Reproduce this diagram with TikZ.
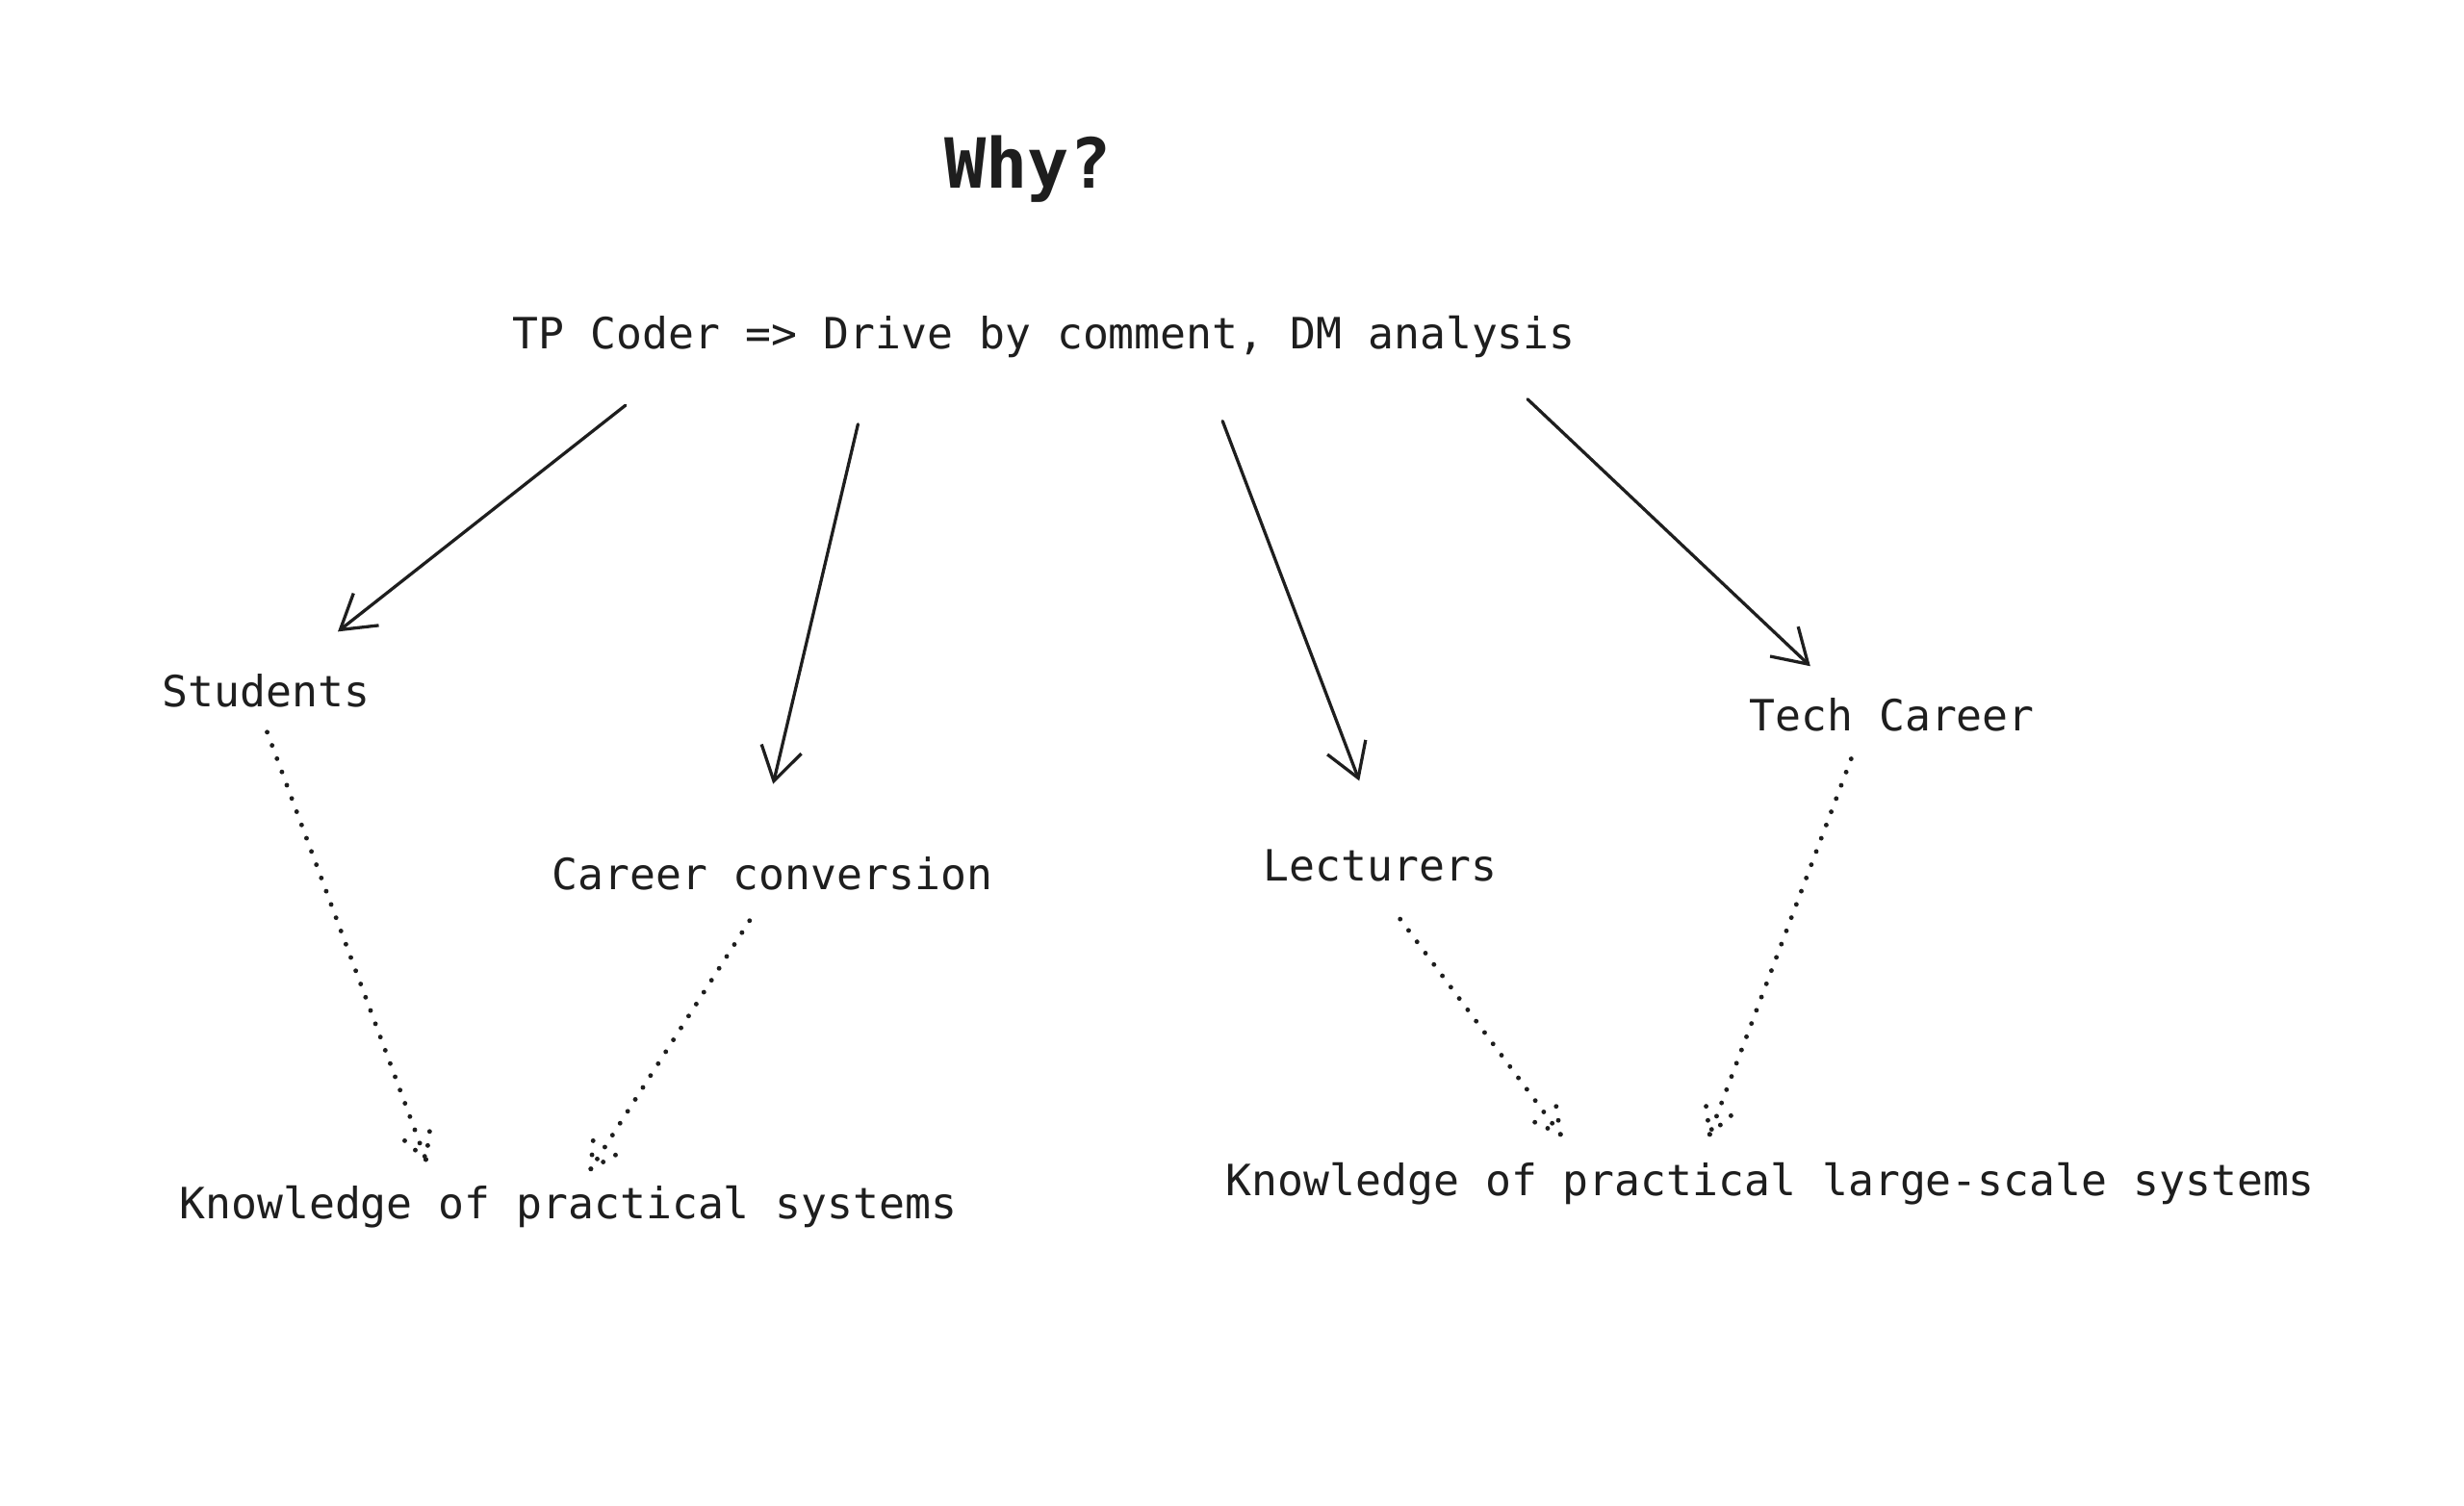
\documentclass[tikz,border=0pt]{standalone}
\usepackage{fontspec}
\setmonofont{DejaVu Sans Mono}
\usetikzlibrary{arrows.meta,calc}
\definecolor{ink}{HTML}{1E1E1E}
\begin{document}
\begin{tikzpicture}[x=1pt,y=-1pt,
  lbl/.style={font=\ttfamily\fontsize{27.4}{30}\selectfont, text=ink, inner sep=0pt, anchor=base west},
  heading/.style={font=\ttfamily\bfseries\fontsize{44}{48}\selectfont, text=ink, inner sep=0pt, anchor=base},
  solidarrow/.style={draw=ink, line width=2pt, line cap=round, line join=round, -{Straight Barb[length=21pt,width=26pt]}},
  dotline/.style={draw=ink, line width=3pt, line cap=round, dash pattern=on 0pt off 9pt}]
\useasboundingbox (0,0) rectangle (1568,958);
\fill[white] (0,0) rectangle (1568,958);

\node[heading] (why) at (654,120) {Why?};
\node[lbl] (tp) at (326,222) {TP Coder => Drive by comment, DM analysis};
\node[lbl] (students) at (103,450) {Students};
\node[lbl] (conv) at (351,566) {Career conversion};
\node[lbl] (lect) at (804,561) {Lecturers};
\node[lbl] (tech) at (1113,465) {Tech Career};
\node[lbl] (know1) at (114,776) {Knowledge of practical systems};
\node[lbl] (know2) at (780,761) {Knowledge of practical large-scale systems};

% solid arrow end points
\coordinate (a1s) at (398,258); \coordinate (a1e) at (215,402);
\coordinate (a2s) at (546,270); \coordinate (a2e) at (492,499);
\coordinate (a3s) at (778,268); \coordinate (a3e) at (865,497);
\coordinate (a4s) at (972,254); \coordinate (a4e) at (1152,424);
\draw[solidarrow] (a1s) -- (a1e);
\draw[solidarrow] (a2s) -- (a2e);
\draw[solidarrow] (a3s) -- (a3e);
\draw[solidarrow] (a4s) -- (a4e);

% dotted arrow end points
\coordinate (d1s) at (170,466); \coordinate (d1e) at (271,738);
\coordinate (d2s) at (477,586); \coordinate (d2e) at (376,744);
\coordinate (d3s) at (891,585); \coordinate (d3e) at (993,722);
\coordinate (d4s) at (1178,483); \coordinate (d4e) at (1088,722);
\foreach \s/\e in {d1s/d1e,d2s/d2e,d3s/d3e,d4s/d4e}{
  \draw[dotline] (\s) -- (\e);
  \draw[dotline] (\e) -- ($(\e)!24pt!28:(\s)$);
  \draw[dotline] (\e) -- ($(\e)!24pt!-28:(\s)$);
}
\end{tikzpicture}
\end{document}
